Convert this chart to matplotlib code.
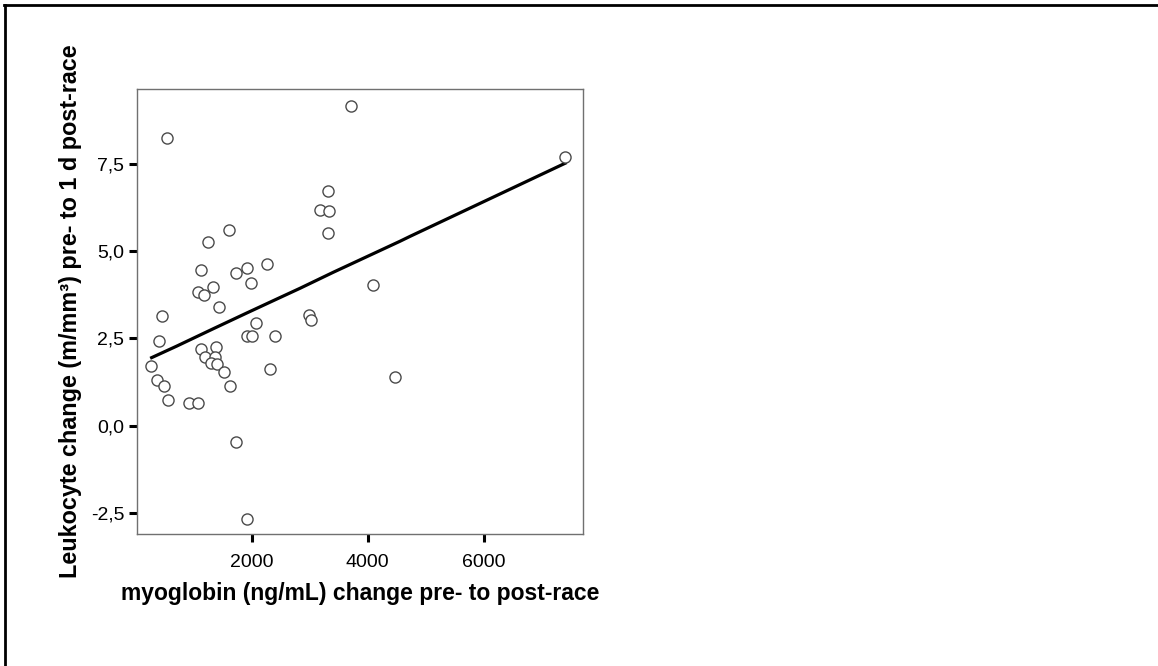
import matplotlib
matplotlib.use("Agg")
import matplotlib.pyplot as plt
from matplotlib.lines import Line2D
from matplotlib.ticker import FuncFormatter

plt.rcParams['font.family'] = ['Liberation Sans', 'DejaVu Sans']

# Data
myoglobin = [527, 3710, 3307, 3175, 3336, 3307, 1597, 1240, 1113, 1723,
             1919, 2265, 1977, 4084, 1062, 1171, 1326, 1430, 446, 2985,
             3014, 2075, 394, 1908, 2000, 2392, 1113, 1384, 1188, 1356,
             1292, 1390, 1516, 2311, 256, 365, 475, 1625, 555, 918,
             1062, 1723, 1919, 4470, 7410]
leukocyte = [8.26, 9.18, 6.74, 6.20, 6.16, 5.53, 5.61, 5.27, 4.47, 4.39,
             4.53, 4.64, 4.08, 4.04, 3.84, 3.75, 3.97, 3.41, 3.15, 3.16,
             3.03, 2.95, 2.42, 2.58, 2.58, 2.58, 2.20, 2.26, 1.97, 1.96,
             1.80, 1.78, 1.54, 1.63, 1.72, 1.31, 1.14, 1.14, 0.74, 0.65,
             0.65, -0.46, -2.68, 1.40, 7.70]

fit_x = [267, 699, 1332, 1908, 2426, 2829, 3404, 4556, 4729, 7410]
fit_y = [1.95, 2.28, 2.78, 3.23, 3.63, 3.94, 4.40, 5.29, 5.43, 7.53]

x_ticks = [2000, 4000, 6000]
y_ticks = [-2.5, 0.0, 2.5, 5.0, 7.5]

x_label = "myoglobin (ng/mL) change pre- to post-race"
y_label = "Leukocyte change (m/mm³) pre- to 1 d post-race"

fig = plt.figure(figsize=(11.58, 6.66), dpi=100)
W, H = 1158, 666
left_px, right_px, top_px, bot_px = 136.7, 583, 89, 534.3
ax = fig.add_axes([left_px / W, 1 - bot_px / H, (right_px - left_px) / W, (bot_px - top_px) / H])

ax.scatter(myoglobin, leukocyte, s=64, facecolors='white', edgecolors='#4a4a4a',
           linewidths=1.0, zorder=3)
ax.plot(fit_x, fit_y, color='black', linewidth=2.3, zorder=2)

ax.set_xlim(9, 7717)
ax.set_ylim(-3.12, 9.66)
ax.set_xticks(x_ticks)
ax.set_yticks(y_ticks)
ax.yaxis.set_major_formatter(FuncFormatter(lambda v, p: f"{v:.1f}".replace('.', ',')))
ax.xaxis.set_major_formatter(FuncFormatter(lambda v, p: f"{v:.0f}"))

for s in ax.spines.values():
    s.set_color('#707070')
    s.set_linewidth(1.0)

ax.tick_params(axis='both', direction='out', length=6, width=2.2, color='black',
               labelsize=14)
ax.tick_params(axis='x', pad=8)
ax.tick_params(axis='y', pad=3)

ax.set_xlabel(x_label, fontsize=16.5, fontweight='bold', labelpad=8)
ax.set_ylabel(y_label, fontsize=16.8, fontweight='bold', labelpad=6)

# outer frame (top and left edges)
fig.add_artist(Line2D([4 / W, 1], [1 - 4.5 / H, 1 - 4.5 / H], transform=fig.transFigure,
                      color='black', linewidth=2.0))
fig.add_artist(Line2D([4.5 / W, 4.5 / W], [0, 1 - 4.5 / H], transform=fig.transFigure,
                      color='black', linewidth=2.0))

fig.savefig("out.png", dpi=100, facecolor='white')
